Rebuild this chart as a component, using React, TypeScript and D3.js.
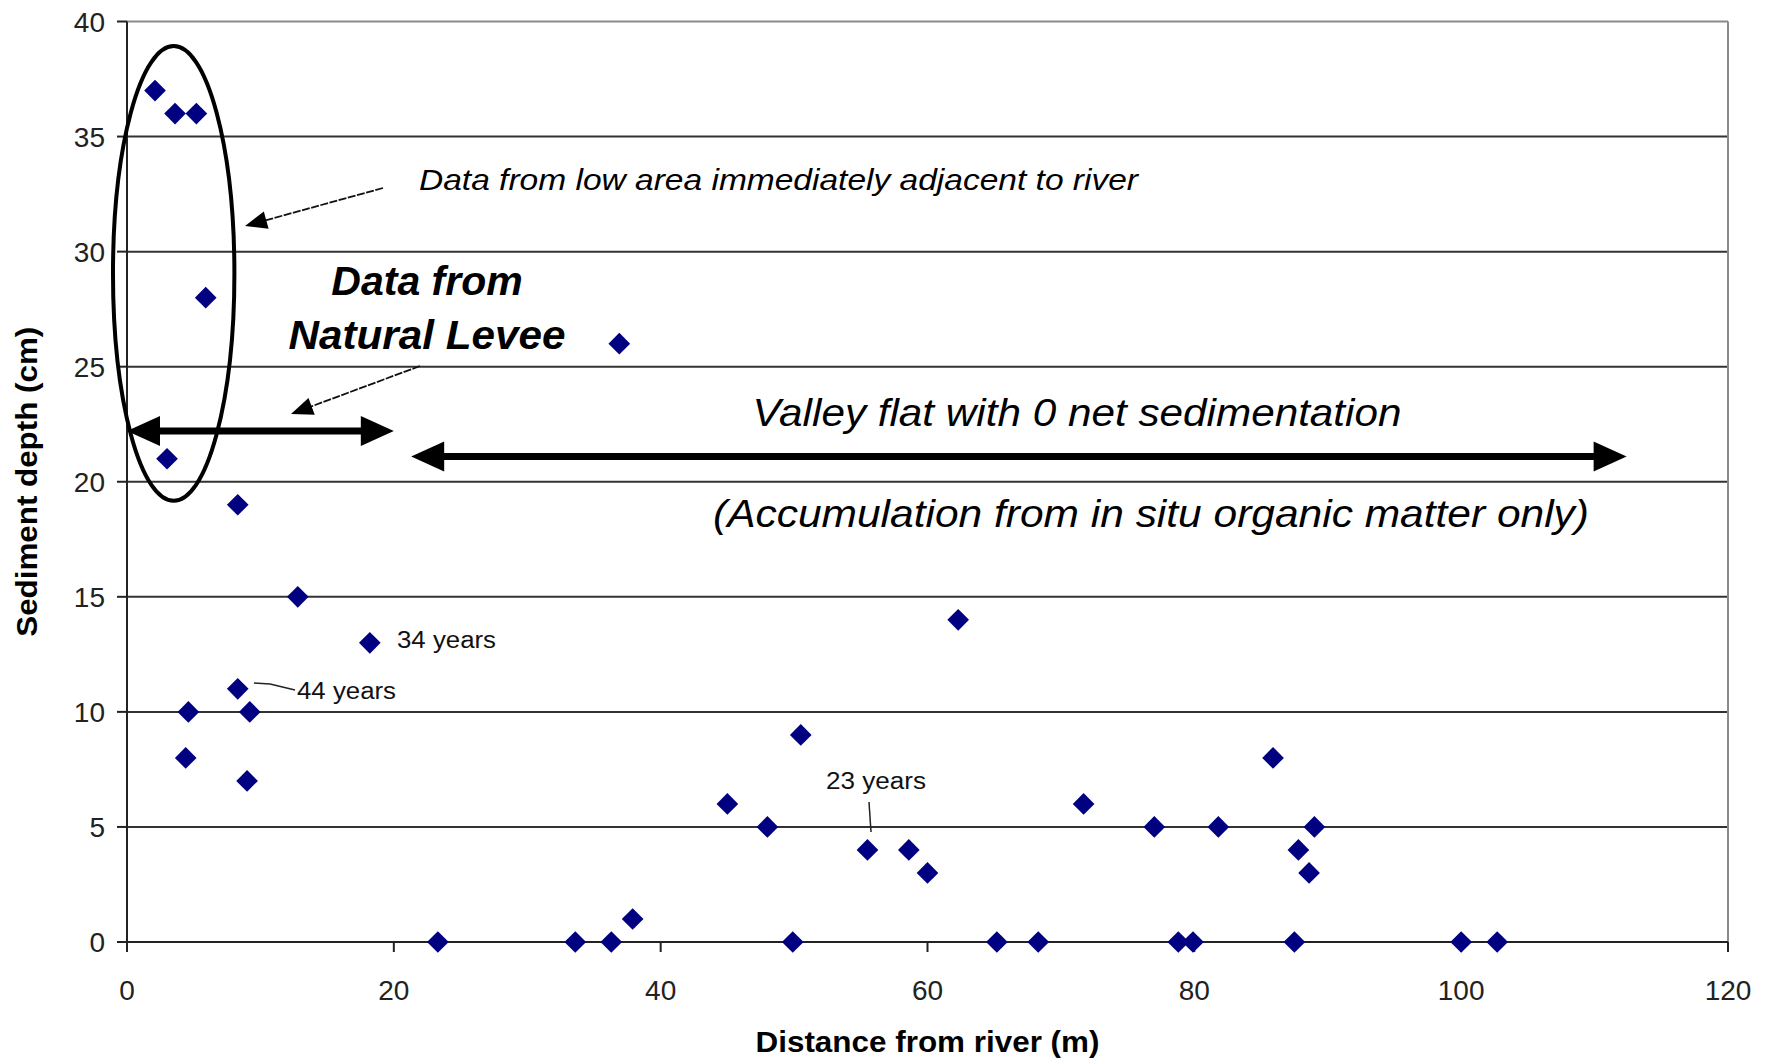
import * as d3 from 'd3';

// distance from river (m) and sediment depth (cm)
const distance = [
  2.1, 3.6, 5.2, 5.9, 3.0, 8.3, 12.8, 18.2, 8.3, 4.6, 9.2, 4.4, 9.0,
  36.9, 62.3, 50.5, 45.0, 48.0, 55.5, 58.6, 60.0, 71.7, 77.0, 81.8, 85.9,
  87.8, 88.6, 89.0, 37.9,
  23.3, 33.6, 36.3, 49.9, 65.2, 68.3, 78.8, 79.9, 87.5, 100.0, 102.7,
];
const depth = [
  37, 36, 36, 28, 21, 19, 15, 13, 11, 10, 10, 8, 7,
  26, 14, 9, 6, 5, 4, 4, 3, 6, 5, 5, 8,
  4, 3, 5, 1,
  0, 0, 0, 0, 0, 0, 0, 0, 0, 0, 0,
];

const xTicks = [0, 20, 40, 60, 80, 100, 120];
const yTicks = [0, 5, 10, 15, 20, 25, 30, 35, 40];

const W = 1767;
const H = 1059;
const margin = { top: 21.5, right: 39, bottom: 117, left: 127 };

const x = d3.scaleLinear().domain([0, 120]).range([margin.left, W - margin.right]);
const y = d3.scaleLinear().domain([0, 40]).range([H - margin.bottom, margin.top]);

const diamond = d3.symbol(d3.symbolSquare, 235)();

const font = 'Liberation Sans, Arial, sans-serif';

// filled triangle head pointing from (x1,y1) towards (x2,y2), tip at (x2,y2)
function head(x1: number, y1: number, x2: number, y2: number, len: number, half: number) {
  const a = Math.atan2(y2 - y1, x2 - x1);
  const bx = x2 - len * Math.cos(a);
  const by = y2 - len * Math.sin(a);
  const px = -Math.sin(a) * half;
  const py = Math.cos(a) * half;
  return `M${x2},${y2}L${bx + px},${by + py}L${bx - px},${by - py}Z`;
}

function ThinArrow({ x1, y1, x2, y2 }: { x1: number; y1: number; x2: number; y2: number }) {
  const a = Math.atan2(y2 - y1, x2 - x1);
  return (
    <g>
      <line x1={x1} y1={y1} x2={x2 - 14 * Math.cos(a)} y2={y2 - 14 * Math.sin(a)}
        stroke="#111" strokeWidth={1.8} strokeDasharray="8 1.5" />
      <path d={head(x1, y1, x2, y2, 22, 9)} fill="#000" />
    </g>
  );
}

function DoubleArrow({ x1, x2, yy }: { x1: number; x2: number; yy: number }) {
  return (
    <g>
      <line x1={x1 + 20} y1={yy} x2={x2 - 20} y2={yy} stroke="#000" strokeWidth={7} />
      <path d={head(x2, yy, x1, yy, 33, 15)} fill="#000" />
      <path d={head(x1, yy, x2, yy, 33, 15)} fill="#000" />
    </g>
  );
}

export default function App() {
  const points = distance.map((d, i) => ({ d, v: depth[i] }));
  const x0 = x(0);
  const y0 = y(0);

  return (
    <svg width={W} height={H} style={{ position: 'absolute', left: 0, top: 0, background: '#fff' }}>
      {/* gridlines */}
      {yTicks.map(t => (
        <line key={'g' + t} x1={x0} x2={x(120)} y1={y(t)} y2={y(t)}
          stroke={t === 40 ? '#8a8a8a' : '#333'} strokeWidth={2} />
      ))}
      <line x1={x(120)} x2={x(120)} y1={y(40)} y2={y0} stroke="#8a8a8a" strokeWidth={2} />

      {/* y axis */}
      <line x1={x0} x2={x0} y1={y(40)} y2={y0} stroke="#222" strokeWidth={2} />
      {yTicks.map(t => (
        <g key={'yt' + t}>
          <line x1={x0 - 10} x2={x0} y1={y(t)} y2={y(t)} stroke="#222" strokeWidth={2} />
          <text x={x0 - 22} y={y(t)} dy="0.36em" textAnchor="end" fontFamily={font}
            fontSize={28} fill="#222">{t}</text>
        </g>
      ))}

      {/* x axis */}
      <line x1={x0} x2={x(120)} y1={y0} y2={y0} stroke="#222" strokeWidth={2} />
      {xTicks.map(t => (
        <g key={'xt' + t}>
          <line x1={x(t)} x2={x(t)} y1={y0} y2={y0 + 10} stroke="#222" strokeWidth={2} />
          <text x={x(t)} y={y0 + 58} textAnchor="middle" fontFamily={font}
            fontSize={28} fill="#222">{t}</text>
        </g>
      ))}

      {/* axis titles */}
      <text x={(x0 + x(120)) / 2} y={1052} textAnchor="middle" fontFamily={font}
        fontSize={29} fontWeight="bold" textLength={344} lengthAdjust="spacingAndGlyphs">
        Distance from river (m)
      </text>
      <text transform={`translate(37,${(y(40) + y0) / 2}) rotate(-90)`} textAnchor="middle"
        fontFamily={font} fontSize={29} fontWeight="bold" textLength={310}
        lengthAdjust="spacingAndGlyphs">
        Sediment depth (cm)
      </text>

      {/* data */}
      {points.map((p, i) => (
        <path key={i} d={diamond} transform={`translate(${x(p.d)},${y(p.v)}) rotate(45)`}
          fill="#000080" />
      ))}

      {/* ellipse around low-area points */}
      <ellipse cx={x(3.5)} cy={y(29.05)} rx={x(4.55) - x(0)} ry={y(0) - y(9.88)}
        fill="none" stroke="#000" strokeWidth={4} />

      {/* annotations */}
      <ThinArrow x1={383} y1={188} x2={245} y2={226} />
      <text x={419} y={190} fontFamily={font} fontSize={30} fontStyle="italic"
        textLength={719} lengthAdjust="spacingAndGlyphs">
        Data from low area immediately adjacent to river
      </text>

      <text x={427} y={295} textAnchor="middle" fontFamily={font} fontSize={41}
        fontWeight="bold" fontStyle="italic">Data from</text>
      <text x={427} y={349} textAnchor="middle" fontFamily={font} fontSize={41}
        fontWeight="bold" fontStyle="italic" textLength={277}
        lengthAdjust="spacingAndGlyphs">Natural Levee</text>
      <ThinArrow x1={420} y1={366} x2={291} y2={414} />

      <DoubleArrow x1={x(0)} x2={x(20)} yy={y(22.2)} />
      <DoubleArrow x1={x(21.3)} x2={x(112.4)} yy={y(21.1)} />

      <text x={1077} y={426} textAnchor="middle" fontFamily={font} fontSize={39}
        fontStyle="italic" textLength={649} lengthAdjust="spacingAndGlyphs">
        Valley flat with 0 net sedimentation
      </text>
      <text x={1151} y={527} textAnchor="middle" fontFamily={font} fontSize={39}
        fontStyle="italic" textLength={876} lengthAdjust="spacingAndGlyphs">
        (Accumulation from in situ organic matter only)
      </text>

      {/* age labels */}
      <text x={397} y={648} fontFamily={font} fontSize={23} fill="#111"
        textLength={99} lengthAdjust="spacingAndGlyphs">34 years</text>
      <line x1={254} y1={683} x2={270} y2={684} stroke="#222" strokeWidth={1.5} />
      <line x1={270} y1={684} x2={295} y2={690} stroke="#222" strokeWidth={1.5} />
      <text x={297} y={699} fontFamily={font} fontSize={23} fill="#111"
        textLength={99} lengthAdjust="spacingAndGlyphs">44 years</text>
      <text x={826} y={789} fontFamily={font} fontSize={23} fill="#111"
        textLength={100} lengthAdjust="spacingAndGlyphs">23 years</text>
      <line x1={869} y1={802} x2={871} y2={832} stroke="#222" strokeWidth={1.5} />
    </svg>
  );
}
